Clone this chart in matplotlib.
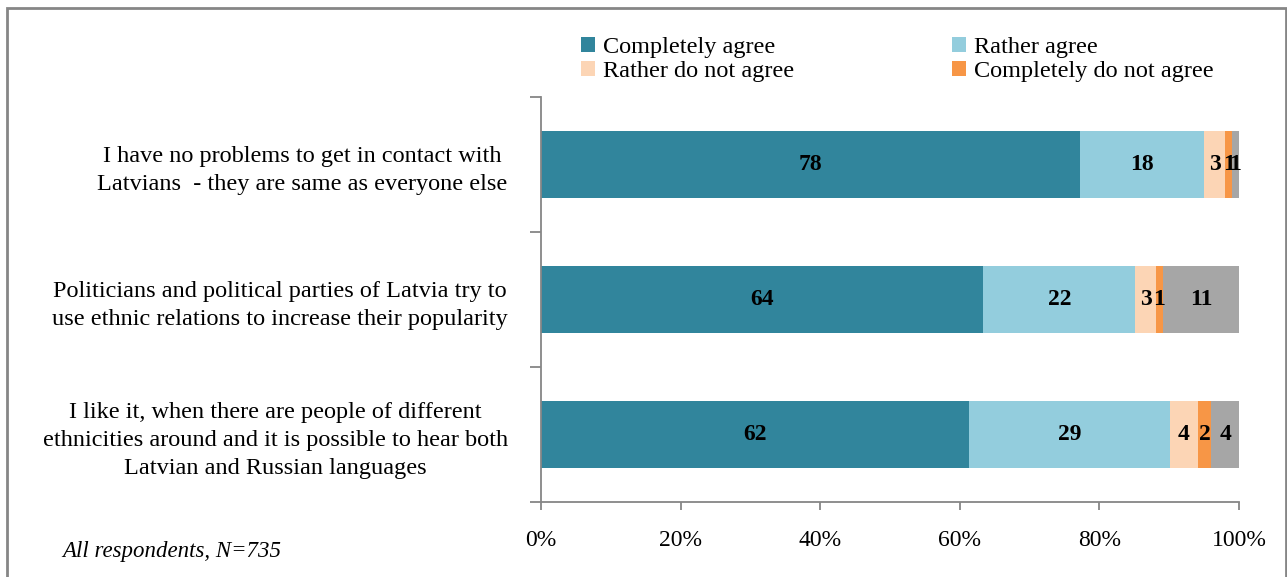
import numpy as np
import matplotlib.pyplot as plt
from matplotlib.patches import Patch, Rectangle
from matplotlib.ticker import PercentFormatter

plt.rcParams["font.family"] = ["Liberation Serif", "DejaVu Serif"]

# Survey statements (top to bottom)
statements = [
    "I have no problems to get in contact with\nLatvians  - they are same as everyone else",
    "Politicians and political parties of Latvia try to\nuse ethnic relations to increase their popularity",
    "I like it, when there are people of different\nethnicities around and it is possible to hear both\nLatvian and Russian languages",
]

series_names = ["Completely agree", "Rather agree", "Rather do not agree",
                "Completely do not agree", "Hard to say"]
colors = ["#31859C", "#93CDDD", "#FCD5B5", "#F79646", "#A6A6A6"]

completely_agree = [78, 64, 62]
rather_agree = [18, 22, 29]
rather_not = [3, 3, 4]
completely_not = [1, 1, 2]
hard_to_say = [1, 11, 4]

values = np.array([completely_agree, rather_agree, rather_not,
                   completely_not, hard_to_say], dtype=float)
shares = values / values.sum(axis=0)

fig = plt.figure(figsize=(12.87, 5.77), dpi=100)
ax = fig.add_axes([541 / 1287, 1 - 502 / 577, 698 / 1287, 405 / 577])

ypos = np.arange(len(statements))[::-1]
left = np.zeros(len(statements))
for i, name in enumerate(series_names):
    bars = ax.barh(ypos, shares[i], left=left, height=0.5,
                   color=colors[i], edgecolor="none")
    ax.bar_label(bars, labels=[f"{v:.0f}" for v in values[i]],
                 label_type="center", fontsize=17, fontweight="bold")
    left += shares[i]

ax.set_xlim(0, 1)
ax.set_ylim(-0.5, 2.5)
ax.xaxis.set_major_formatter(PercentFormatter(1.0, decimals=0))
ax.set_xticks(np.linspace(0, 1, 6))
ax.set_yticks(ypos)
ax.set_yticklabels(statements, fontsize=17.5, multialignment="center",
                   linespacing=1.45)
ax.set_yticks([-0.5, 0.5, 1.5, 2.5], minor=True)
ax.tick_params(axis="y", which="major", length=0, pad=24)
ax.tick_params(axis="y", which="minor", length=8, color="#868686", width=1.3)
ax.tick_params(axis="x", length=6, color="#868686", width=1.3,
               labelsize=17, pad=14)

for side in ["top", "right"]:
    ax.spines[side].set_visible(False)
for side in ["left", "bottom"]:
    ax.spines[side].set_color("#868686")
    ax.spines[side].set_linewidth(1.3)

# legend for the first four answer categories only (row-wise order)
order = [0, 2, 1, 3]
handles = [Patch(facecolor=colors[i], edgecolor="none", label=series_names[i])
           for i in order]
fig.legend(handles=handles, loc="upper left", bbox_to_anchor=(576 / 1287, 1 - 32 / 577),
           ncol=2, frameon=False, fontsize=17.5, handlelength=0.6, handleheight=0.6,
           handletextpad=0.3, columnspacing=6.5, labelspacing=0.12,
           borderaxespad=0, borderpad=0.2)

fig.text(62 / 1287, 1 - 552 / 577, "All respondents, N=735", fontsize=16.5,
         style="italic", va="center")

# outer frame
fig.patches.append(Rectangle((7 / 1287, -0.02), 1278.5 / 1287, 1 - 8 / 577 + 0.02,
                             transform=fig.transFigure, fill=False,
                             edgecolor="#868686", linewidth=2))

fig.savefig("out.png", dpi=100)
